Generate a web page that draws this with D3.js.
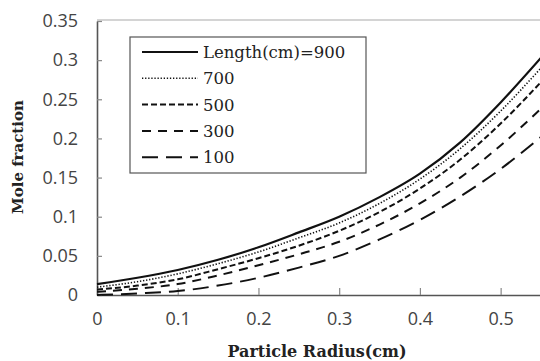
<!DOCTYPE html>
<html>
<head>
<meta charset="utf-8">
<script src="https://cdn.jsdelivr.net/npm/d3@7"></script>
<style>
  body { margin: 0; background: #fff; }
  svg { display: block; }
</style>
</head>
<body>
<svg class="chart" width="540" height="361"></svg>
<script>
// particle radius (cm)
var radius = [0, 0.05, 0.1, 0.15, 0.2, 0.25, 0.3, 0.35, 0.4, 0.45, 0.5, 0.55];

// mole fraction for each reactor length (cm)
var len900 = [0.014, 0.022, 0.032, 0.045, 0.061, 0.080, 0.100, 0.125, 0.155, 0.195, 0.246, 0.303];
var len700 = [0.010, 0.017, 0.027, 0.040, 0.055, 0.073, 0.092, 0.117, 0.148, 0.187, 0.235, 0.290];
var len500 = [0.007, 0.012, 0.020, 0.033, 0.047, 0.063, 0.082, 0.106, 0.136, 0.173, 0.219, 0.272];
var len300 = [0.004, 0.008, 0.014, 0.025, 0.038, 0.052, 0.068, 0.090, 0.117, 0.150, 0.191, 0.238];
var len100 = [0.000, 0.002, 0.005, 0.012, 0.022, 0.035, 0.050, 0.071, 0.096, 0.126, 0.161, 0.202];

var legendLabels = ["Length(cm)=900", "700", "500", "300", "100"];
var xTicks = [0, 0.1, 0.2, 0.3, 0.4, 0.5];
var yTicks = [0, 0.05, 0.1, 0.15, 0.2, 0.25, 0.3, 0.35];

var series = [
  { name: legendLabels[0], values: len900, dash: null, width: 2.2 },
  { name: legendLabels[1], values: len700, dash: "1.3,1.8", width: 1.6 },
  { name: legendLabels[2], values: len500, dash: "6,3", width: 2 },
  { name: legendLabels[3], values: len300, dash: "9,7", width: 2 },
  { name: legendLabels[4], values: len100, dash: "16,8", width: 2 }
];

var svg = d3.select(".chart"),
  margin = { left: 97, top: 21, right: -1, bottom: 66 },
  width = svg.attr("width") - margin.left - margin.right,
  height = svg.attr("height") - margin.top - margin.bottom;

var xScale = d3.scaleLinear().domain([0, 0.55]).range([0, width]),
  yScale = d3.scaleLinear().domain([0, 0.35]).range([height, 0]);

var g = svg.append("g").attr("transform", "translate(" + margin.left + "," + margin.top + ")");

// frame top line
g.append("line")
  .attr("x1", 0).attr("x2", width)
  .attr("y1", -1).attr("y2", -1)
  .attr("stroke", "#aaa").attr("stroke-width", 1.2);

// x axis
var xAxis = g.append("g")
  .attr("transform", "translate(0," + height + ")")
  .call(d3.axisBottom(xScale).tickValues(xTicks).tickSizeInner(-7).tickSizeOuter(0).tickPadding(17)
    .tickFormat(function (d) { return d === 0 ? "0" : d3.format(".1f")(d); }));

// y axis
var yAxis = g.append("g")
  .call(d3.axisLeft(yScale).tickValues(yTicks).tickSizeInner(-5).tickSizeOuter(0).tickPadding(19)
    .tickFormat(function (d) { return d === 0 ? "0" : String(+d.toFixed(2)); }));

[xAxis, yAxis].forEach(function (a) {
  a.select(".domain").attr("stroke", "#555").attr("stroke-width", 1.6);
  a.selectAll(".tick line").attr("stroke", "#888").attr("stroke-width", 1.2);
  a.selectAll(".tick text")
    .attr("font-family", "Open Sans, sans-serif")
    .attr("font-size", 18)
    .attr("fill", "#444");
});

// curves
var line = d3.line()
  .x(function (d, i) { return xScale(radius[i]); })
  .y(function (d) { return yScale(d); })
  .curve(d3.curveMonotoneX);

series.forEach(function (s) {
  g.append("path")
    .datum(s.values)
    .attr("fill", "none")
    .attr("stroke", "#111")
    .attr("stroke-width", s.width)
    .attr("stroke-dasharray", s.dash)
    .attr("d", line);
});

// legend
var legend = svg.append("g").attr("transform", "translate(130,37)");
legend.append("rect")
  .attr("width", 236).attr("height", 136)
  .attr("fill", "#fff").attr("stroke", "#555").attr("stroke-width", 1.2);

series.forEach(function (s, i) {
  var y = 15 + i * 26.3;
  legend.append("line")
    .attr("x1", 12).attr("x2", 68)
    .attr("y1", y).attr("y2", y)
    .attr("stroke", "#111")
    .attr("stroke-width", s.width)
    .attr("stroke-dasharray", s.dash);
  legend.append("text")
    .attr("x", 73).attr("y", y + 6)
    .attr("font-family", "DejaVu Serif, serif")
    .attr("font-size", 16.5)
    .attr("fill", "#222")
    .text(s.name);
});

// axis titles
svg.append("text")
  .attr("x", 317).attr("y", 357)
  .attr("text-anchor", "middle")
  .attr("font-family", "DejaVu Serif, serif")
  .attr("font-weight", "bold")
  .attr("font-size", 16)
  .attr("fill", "#222")
  .text("Particle Radius(cm)");

svg.append("text")
  .attr("transform", "translate(23,157) rotate(-90)")
  .attr("text-anchor", "middle")
  .attr("font-family", "DejaVu Serif, serif")
  .attr("font-weight", "bold")
  .attr("font-size", 15)
  .attr("fill", "#222")
  .text("Mole fraction");
</script>
</body>
</html>
